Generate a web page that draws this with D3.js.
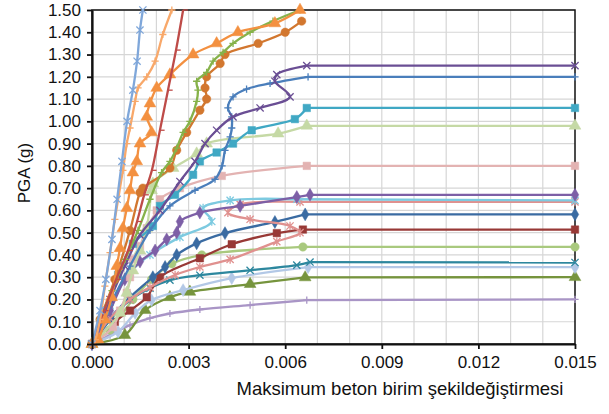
<!DOCTYPE html>
<html><head><meta charset="utf-8">
<script src="https://cdn.jsdelivr.net/npm/d3@7"></script>
<style>
body{margin:0;background:#fff}
svg{display:block}
text{font-family:"Liberation Sans",Arial,sans-serif;fill:#111}
</style>
</head><body>
<svg id="c" width="609" height="414"></svg>
<script>
// ---------- data ----------
const xTicks = [0, 0.003, 0.006, 0.009, 0.012, 0.015];
const yTicks = [0,0.1,0.2,0.3,0.4,0.5,0.6,0.7,0.8,0.9,1.0,1.1,1.2,1.3,1.4,1.5];
const xTitle = "Maksimum beton birim şekildeğiştirmesi";
const yTitle = "PGA (g)";

const sLightBlueX = [[0,0],[0.00025,0.15],[0.00043,0.29],[0.00062,0.47],[0.00078,0.65],[0.00093,0.82],[0.00109,1.0],[0.00127,1.14],[0.0014,1.27],[0.00149,1.41],[0.00158,1.5]];
const sPeachPlus = [[0,0],[0.0001,0.02],[0.00025,0.11],[0.0004,0.26],[0.00056,0.41],[0.00071,0.56],[0.00096,0.78],[0.00108,0.9],[0.00118,0.97],[0.00134,1.09],[0.00143,1.15],[0.0017,1.2],[0.00196,1.27],[0.0022,1.39],[0.00248,1.5]];
const sRedDash = [[0,0],[0.00037,0.15],[0.00075,0.29],[0.00112,0.42],[0.0014,0.55],[0.00162,0.67],[0.00186,0.78],[0.00211,0.96],[0.00236,1.14],[0.00261,1.32],[0.00283,1.5]];
const sOrangeTri = [[0,0],[0.00019,0.02],[0.0004,0.11],[0.00061,0.21],[0.00077,0.35],[0.00087,0.43],[0.00096,0.52],[0.00108,0.61],[0.00118,0.69],[0.00127,0.77],[0.00139,0.82],[0.00149,0.9],[0.00185,0.95],[0.0017,1.02],[0.0018,1.08],[0.00201,1.15],[0.00242,1.21],[0.00314,1.3],[0.00387,1.35],[0.00453,1.4],[0.00568,1.44],[0.00646,1.5]];
const sGreenPlus = [[0,0],[0.00025,0.11],[0.00062,0.24],[0.00103,0.38],[0.00143,0.51],[0.0018,0.65],[0.00216,0.77],[0.00242,0.82],[0.00263,0.88],[0.00283,0.95],[0.00304,1.0],[0.00325,1.09],[0.00329,1.14],[0.00325,1.18],[0.00356,1.22],[0.00376,1.27],[0.00407,1.31],[0.00438,1.35],[0.00491,1.4],[0.00562,1.45],[0.00646,1.5]];
const sBrownCircle = [[0,0],[0.00025,0.11],[0.00071,0.29],[0.00118,0.51],[0.00149,0.68],[0.00158,0.7],[0.00242,0.79],[0.00263,0.87],[0.00294,0.95],[0.00335,1.05],[0.00356,1.1],[0.00351,1.15],[0.00356,1.2],[0.00398,1.26],[0.00413,1.3],[0.00516,1.35],[0.006,1.4],[0.00651,1.45]];
const sPurpleX = [[0,0],[0.00056,0.2],[0.00102,0.35],[0.00149,0.49],[0.00211,0.6],[0.00273,0.73],[0.0032,0.82],[0.00351,0.9],[0.00387,0.96],[0.00438,1.02],[0.00522,1.06],[0.00615,1.11],[0.00568,1.18],[0.00574,1.21],[0.00667,1.25],[0.015,1.25]];
const sBluePlus = [[0,0],[0.00056,0.175],[0.00118,0.35],[0.0018,0.51],[0.00242,0.62],[0.0032,0.69],[0.00382,0.74],[0.00404,0.8],[0.00413,0.87],[0.00429,0.93],[0.00434,0.97],[0.00434,1.02],[0.00422,1.06],[0.00438,1.11],[0.0048,1.145],[0.00553,1.17],[0.00671,1.2],[0.015,1.2]];
const sAquaSquare = [[0,0],[0.0004,0.15],[0.00081,0.31],[0.00127,0.45],[0.00189,0.53],[0.00211,0.62],[0.00258,0.67],[0.00314,0.76],[0.00335,0.82],[0.00387,0.86],[0.00438,0.9],[0.00496,0.96],[0.0063,1.01],[0.00667,1.06],[0.015,1.06]];
const sLightGreenTri = [[0,0],[0.00087,0.14],[0.00108,0.23],[0.00127,0.33],[0.00149,0.42],[0.0017,0.52],[0.00185,0.69],[0.00189,0.72],[0.00252,0.79],[0.00325,0.855],[0.00356,0.9],[0.00578,0.945],[0.00667,0.98],[0.015,0.98]];
const sPinkSquare = [[0,0],[0.00065,0.076],[0.00087,0.15],[0.00108,0.23],[0.00118,0.3],[0.00127,0.38],[0.00149,0.44],[0.0017,0.52],[0.00201,0.6],[0.00211,0.65],[0.00273,0.7],[0.00403,0.755],[0.00667,0.8],[0.015,0.8]];
const sPurpleDiamond = [[0,0],[0.00056,0.15],[0.00102,0.29],[0.00149,0.37],[0.00196,0.42],[0.00232,0.47],[0.00263,0.5],[0.00273,0.55],[0.00335,0.59],[0.0046,0.62],[0.00636,0.66],[0.00677,0.67],[0.015,0.67]];
const sCyanX = [[0,0],[0.00056,0.175],[0.00118,0.32],[0.0018,0.4],[0.00273,0.48],[0.00372,0.55],[0.00345,0.61],[0.00429,0.645],[0.00636,0.65],[0.015,0.645]];
const sSalmonStar = [[0,0],[0.00056,0.116],[0.00118,0.2],[0.0018,0.255],[0.00258,0.31],[0.00335,0.346],[0.00429,0.38],[0.00574,0.46],[0.00646,0.5],[0.00615,0.53],[0.00491,0.56],[0.00422,0.59],[0.0046,0.627],[0.00646,0.638],[0.015,0.638]];
const sNavyDiamond = [[0,0],[0.00056,0.116],[0.00118,0.21],[0.00189,0.3],[0.00227,0.346],[0.00263,0.4],[0.00325,0.452],[0.00413,0.498],[0.00568,0.548],[0.00662,0.582],[0.015,0.582]];
const sMaroonSquare = [[0,0],[0.00071,0.1],[0.00118,0.15],[0.0017,0.21],[0.00211,0.3],[0.00335,0.385],[0.00434,0.448],[0.00574,0.498],[0.00655,0.514],[0.015,0.514]];
const sLimeCircle = [[0,0],[0.00056,0.063],[0.00127,0.2],[0.00185,0.29],[0.00248,0.36],[0.00341,0.4],[0.00655,0.436],[0.015,0.436]];
const sTealX = [[0,0],[0.00056,0.107],[0.00118,0.197],[0.0018,0.251],[0.00242,0.287],[0.00335,0.309],[0.00491,0.331],[0.00636,0.354],[0.00677,0.368],[0.015,0.366]];
const sIceDiamond = [[0,0],[0.00081,0.055],[0.00134,0.139],[0.00185,0.197],[0.00283,0.242],[0.00434,0.296],[0.00671,0.345],[0.015,0.345]];
const sOliveTri = [[0,0],[0.00102,0.04],[0.00165,0.152],[0.00242,0.21],[0.00304,0.234],[0.00491,0.269],[0.00662,0.299],[0.015,0.3]];
const sLavenderPlus = [[0,0],[0.00056,0.04],[0.00118,0.085],[0.0018,0.116],[0.00242,0.137],[0.00335,0.155],[0.00491,0.175],[0.00667,0.197],[0.015,0.2]];

const seriesData = [sLavenderPlus,sOliveTri,sIceDiamond,sTealX,sLimeCircle,sMaroonSquare,sNavyDiamond,sSalmonStar,sCyanX,sPurpleDiamond,sPinkSquare,sLightGreenTri,sAquaSquare,sBluePlus,sPurpleX,sBrownCircle,sGreenPlus,sOrangeTri,sRedDash,sPeachPlus,sLightBlueX];

// ---------- styles ----------
const seriesStyle = [
  {c:"#A995C6", m:"plus"},
  {c:"#76943D", m:"tri"},
  {c:"#B3C8E6", m:"diamond"},
  {c:"#2D879E", m:"x"},
  {c:"#A9C97E", m:"circle"},
  {c:"#983936", m:"square"},
  {c:"#3A6BA2", m:"diamond"},
  {c:"#E0918F", m:"star"},
  {c:"#7DCAE0", m:"star"},
  {c:"#7D5FA6", m:"diamond"},
  {c:"#E3B3B2", m:"square"},
  {c:"#C5D9A5", m:"tri"},
  {c:"#40A8C4", m:"square"},
  {c:"#4A7EBB", m:"plus"},
  {c:"#6A4E94", m:"x"},
  {c:"#D2772F", m:"circle"},
  {c:"#86B24A", m:"plus"},
  {c:"#F39040", m:"tri"},
  {c:"#BE4B48", m:"dash"},
  {c:"#F8A86A", m:"plus"},
  {c:"#7FA7DA", m:"x"}
];

// ---------- drawing ----------
const svg = d3.select("#c");
const X0=92, X1=575, Y0=344, Y1=10;
const x = d3.scaleLinear().domain([0,0.015]).range([X0,X1]);
const y = d3.scaleLinear().domain([0,1.5]).range([Y0,Y1]);

const grid = svg.append("g").attr("stroke","#D6D6D6").attr("stroke-width",1.2);
d3.range(1,15).map(i=>i*0.001).forEach(v=>{
  grid.append("line").attr("x1",x(v)).attr("x2",x(v)).attr("y1",Y1).attr("y2",Y0);
});
yTicks.slice(1).forEach(v=>{
  grid.append("line").attr("x1",X0).attr("x2",X1).attr("y1",y(v)).attr("y2",y(v));
});

// frame
svg.append("rect").attr("x",X0).attr("y",Y1).attr("width",X1-X0).attr("height",Y0-Y1)
  .attr("fill","none").attr("stroke","#111").attr("stroke-width",1.5);

const plot = svg.append("g");
const line = d3.line().x(d=>x(d[0])).y(d=>y(d[1])).curve(d3.curveCatmullRom.alpha(0.5));
const straight = d3.line().x(d=>x(d[0])).y(d=>y(d[1]));

function markerPath(type, s){
  switch(type){
    case "x": return `M${-s},${-s}L${s},${s}M${-s},${s}L${s},${-s}`;
    case "plus": return `M${-s},0H${s}M0,${-s}V${s}`;
    case "dash": return `M0,0H${s*1.3}`;
    case "star": return `M${-s},${-s}L${s},${s}M${-s},${s}L${s},${-s}M0,${-s*1.2}V${s*1.2}`;
  }
  return null;
}
const symMap = {tri:d3.symbolTriangle, square:d3.symbolSquare, diamond:d3.symbolDiamond, circle:d3.symbolCircle};
const symSize = {tri:60, square:56, diamond:48, circle:56};

seriesData.forEach((data,i)=>{
  const st = seriesStyle[i];
  const g = plot.append("g");
  const hasTail = data[data.length-1][0] >= 0.015;
  const body = hasTail ? data.slice(0,-1) : data;
  g.append("path").attr("d",line(body)).attr("fill","none")
    .attr("stroke",st.c).attr("stroke-width",2.3).attr("stroke-linejoin","round");
  if(hasTail){
    g.append("path").attr("d",straight(data.slice(-2))).attr("fill","none")
      .attr("stroke",st.c).attr("stroke-width",2.3);
  }
  data.forEach(d=>{
    const t = `translate(${x(d[0])},${y(d[1])})`;
    if(symMap[st.m]){
      g.append("path").attr("d",d3.symbol().type(symMap[st.m]).size(symSize[st.m])())
        .attr("transform",t).attr("fill",st.c).attr("stroke",st.c).attr("stroke-width",0.5);
    } else {
      g.append("path").attr("d",markerPath(st.m,3.6)).attr("transform",t)
        .attr("fill","none").attr("stroke",st.c).attr("stroke-width",1.3);
    }
  });
});

// axes
const FS = 17;
const ax = svg.append("g").attr("transform",`translate(0,${Y0})`)
  .call(d3.axisBottom(x).tickValues(xTicks).tickFormat(d3.format(".3f")).tickSize(5).tickSizeOuter(0));
const ay = svg.append("g").attr("transform",`translate(${X0},0)`)
  .call(d3.axisLeft(y).tickValues(yTicks).tickFormat(d3.format(".2f")).tickSize(5).tickSizeOuter(0));
[ax,ay].forEach(a=>{
  a.select(".domain").attr("stroke","#111").attr("stroke-width",2.2);
  a.selectAll(".tick line").attr("stroke","#111").attr("stroke-width",1.8);
  a.selectAll(".tick text").attr("font-size",FS).attr("fill","#111")
    .attr("font-family","'Liberation Sans',Arial,sans-serif");
});
ax.selectAll(".tick text").attr("dy","0.95em");
ay.selectAll(".tick text").attr("x",-11);

svg.append("text").attr("x",400).attr("y",395).attr("text-anchor","middle")
  .attr("font-size",18.5).text(xTitle);
svg.append("text").attr("transform","translate(30,173) rotate(-90)").attr("text-anchor","middle")
  .attr("font-size",FS).text(yTitle);
</script>
</body></html>
